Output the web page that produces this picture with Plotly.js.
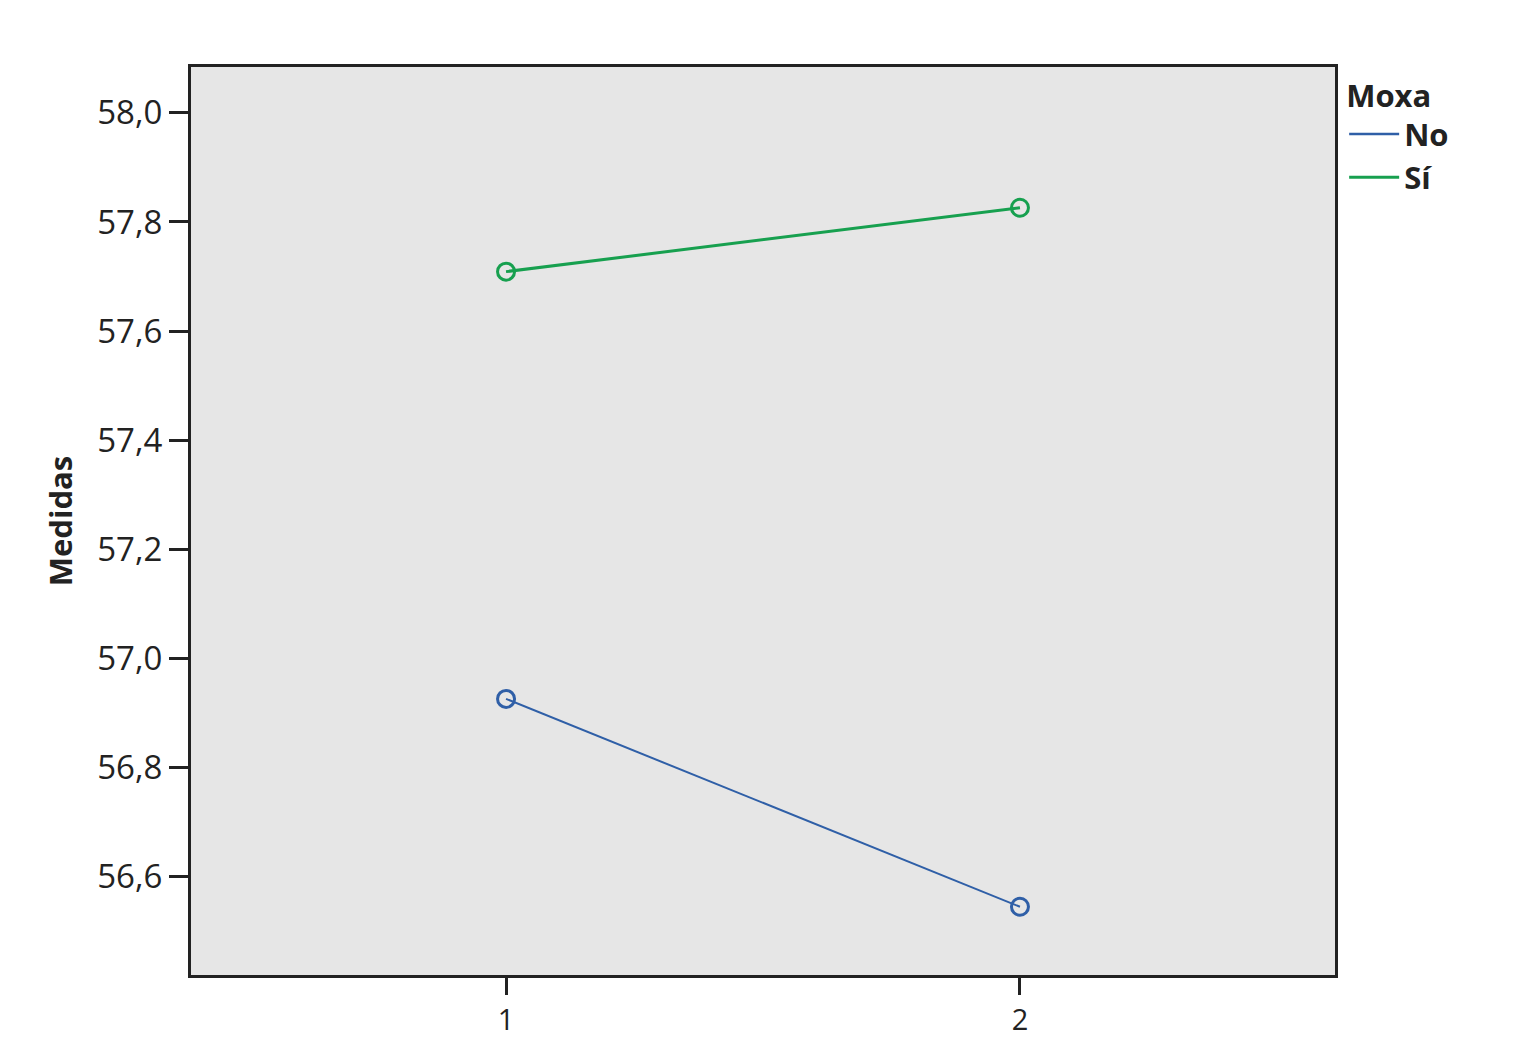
<!DOCTYPE html>
<html>
<head>
<meta charset="utf-8">
<script src="https://cdn.plot.ly/plotly-3.0.1.min.js"></script>
<style>html,body{margin:0;padding:0;background:#fff;}</style>
</head>
<body>
<div id="chart" style="width:1516px;height:1058px;"></div>
<script>
const categories = [1, 2];
const seriesNames = ["No", "Sí"];
const noValues = [56.926, 56.545];
const siValues = [57.709, 57.826];
const yTickValues = [56.6, 56.8, 57.0, 57.2, 57.4, 57.6, 57.8, 58.0];
const xTickLabels = ["1", "2"];
const colors = ["#2f5fa7", "#17a04f"];

const fontFam = "'Open Sans', 'Noto Sans', sans-serif";

function dataTrace(y, i, w) {
  return {
    x: categories, y: y, name: seriesNames[i], type: "scatter", mode: "lines+markers",
    showlegend: false,
    line: {color: colors[i], width: w},
    marker: {symbol: "circle-open", size: 17, color: colors[i], line: {width: 3, color: colors[i]}}
  };
}
function legendTrace(i, w) {
  return {
    x: [null], y: [null], name: seriesNames[i], type: "scatter", mode: "lines",
    showlegend: true, line: {color: colors[i], width: w}
  };
}

const traces = [
  dataTrace(noValues, 0, 2),
  dataTrace(siValues, 1, 3),
  legendTrace(0, 2.5),
  legendTrace(1, 3)
];

const layout = {
  width: 1516, height: 1058,
  margin: {l: 191, r: 181, t: 67, b: 83},
  paper_bgcolor: "#ffffff",
  plot_bgcolor: "#e6e6e6",
  separators: ",.",
  font: {family: fontFam, color: "#222222"},
  showlegend: true,
  legend: {
    x: 1.008, xanchor: "left", y: 1.0, yanchor: "top",
    bgcolor: "rgba(0,0,0,0)",
    title: {text: "<b>Moxa</b>", font: {size: 31, family: fontFam, color: "#222"}},
    font: {size: 31, family: fontFam, color: "#222", weight: "bold"},
    tracegroupgap: 0,
    itemwidth: 50
  },
  xaxis: {
    range: [0.387, 2.613],
    tickvals: categories, ticktext: xTickLabels,
    ticks: "outside", ticklen: 17, tickwidth: 3, tickcolor: "#222",
    showline: true, linecolor: "#222", linewidth: 3, mirror: true,
    showgrid: false, zeroline: false,
    tickfont: {size: 29, family: fontFam, color: "#222"}
  },
  yaxis: {
    range: [56.42, 58.084],
    tickvals: yTickValues, tickformat: ".1f",
    ticks: "outside", ticklen: 19, tickwidth: 3, tickcolor: "#222",
    showline: true, linecolor: "#222", linewidth: 3, mirror: true,
    showgrid: false, zeroline: false,
    tickfont: {size: 33, family: fontFam, color: "#222"},
    title: {text: "<b>Medidas</b>", font: {size: 31, family: fontFam, color: "#222"}, standoff: 16}
  }
};

Plotly.newPlot("chart", traces, layout, {displayModeBar: false, staticPlot: true});
</script>
</body>
</html>
